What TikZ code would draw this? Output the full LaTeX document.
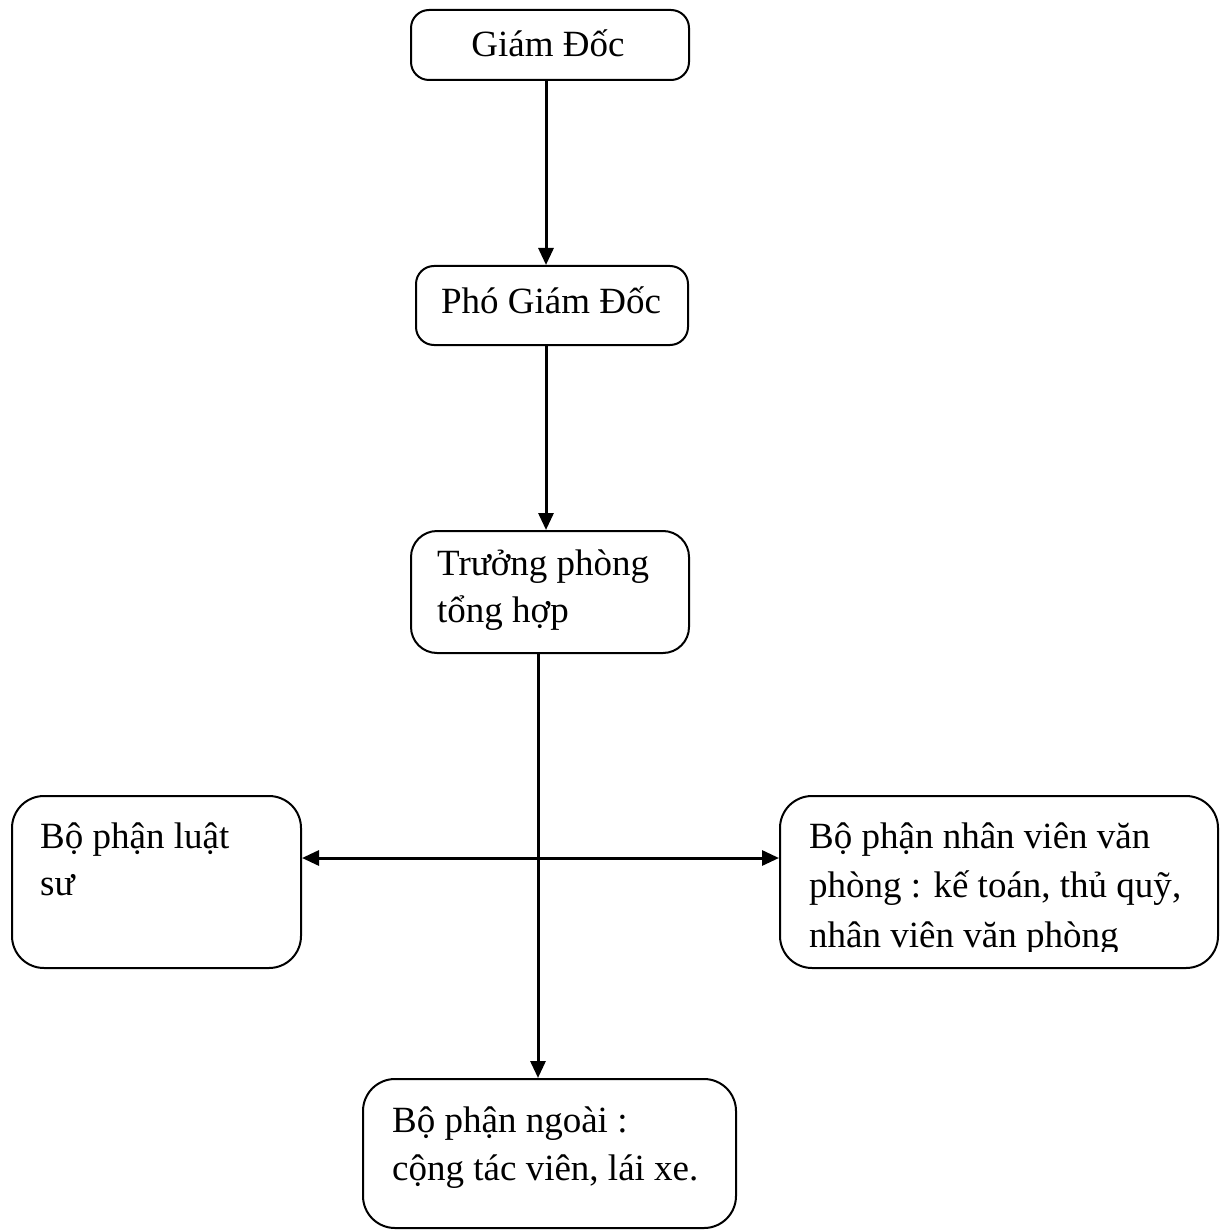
\documentclass[tikz,border=0pt]{standalone}
\usepackage{fontspec}
\setmainfont{Liberation Serif}
\usetikzlibrary{arrows.meta}
\begin{document}
\begin{tikzpicture}[x=1pt,y=-1pt,
  box/.style={draw,line width=2pt,rounded corners=#1,inner sep=0pt},
  box/.default=18pt,
  txt/.style={anchor=base west,inner sep=0pt,font=\fontsize{37}{48}\selectfont},
  arr/.style={line width=3pt,-{Triangle[length=17pt,width=15pt]}}]
\useasboundingbox (0,0) rectangle (1223,1230);
% boxes
\node[box,minimum width=278pt,minimum height=70pt] (gd) at (550,45) {};
\node[box,minimum width=272pt,minimum height=79pt] (pgd) at (552,305.5) {};
\node[box=26pt,minimum width=278pt,minimum height=122pt] (tp) at (550,592) {};
\node[box=32pt,minimum width=289pt,minimum height=172pt] (ls) at (156.5,882) {};
\node[box=32pt,minimum width=438pt,minimum height=172pt] (nv) at (999,882) {};
\node[box=32pt,minimum width=373pt,minimum height=149pt] (ng) at (549.5,1153.5) {};
% texts
\node[txt,anchor=base] (t1) at (548,57) {Giám Đốc};
\node[txt,anchor=base] (t2) at (551,313) {Phó Giám Đốc};
\node[txt] (t3a) at (437,575) {Trưởng phòng};
\node[txt] (t3b) at (437,622) {tổng hợp};
\node[txt] (t4a) at (40,848) {Bộ phận luật};
\node[txt] (t4b) at (40,895) {sư};
\node[txt] (t5a) at (809,848) {Bộ phận nhân viên văn};
\node[txt] (t5b) at (809,897) {phòng : kế toán, thủ quỹ,};
\begin{scope}
\clip (790,905) rectangle (1210,951);
\node[txt] (t5c) at (809,947) {nhân viên văn phòng};
\end{scope}
\node[txt] (t6a) at (392,1132) {Bộ phận ngoài :};
\node[txt] (t6b) at (392,1180) {cộng tác viên, lái xe.};
% connectors
\coordinate (j) at (538,858);
\draw[arr] (gd.south -| 546,0) -- (pgd.north -| 546,0);
\draw[arr] (pgd.south -| 546,0) -- (tp.north -| 546,0);
\draw[arr] (tp.south -| j) -- (ng.north -| j);
\draw[arr] (j) -- (ls.east |- j);
\draw[arr] (j) -- (nv.west |- j);
\end{tikzpicture}
\end{document}
